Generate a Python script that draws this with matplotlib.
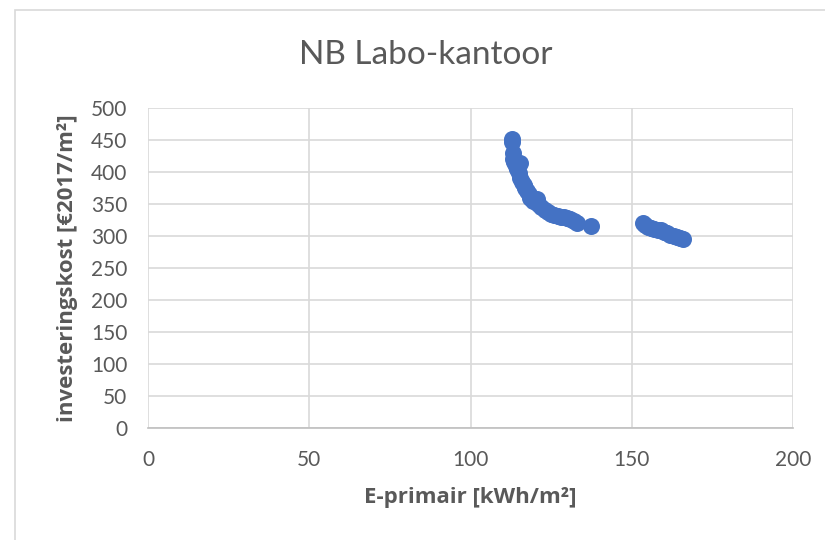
import matplotlib.pyplot as plt
from matplotlib.patches import Rectangle

plt.rcParams['font.family'] = ['Lato', 'DejaVu Sans']

# E-primair [kWh/m²] and investeringskost [€2017/m²]
e_left = [113.0, 113.0, 113.2, 113.3, 113.5, 114.0, 115.5, 114.5, 115.0, 115.5, 116.0,
          116.5, 117.0, 117.5, 118.0, 118.5, 119.5, 120.5, 121.0, 122.0, 123.0, 124.0,
          125.0, 126.0, 127.0, 128.0, 129.0, 130.0, 131.0, 132.0, 133.0, 137.5]
k_left = [452, 447, 430, 420, 415, 410, 414, 405, 398, 390, 385,
          380, 375, 370, 365, 360, 355, 358, 350, 345, 340, 337,
          335, 333, 332, 330, 329, 328, 326, 323, 320, 316]
e_right = [153.5, 154.0, 155.0, 156.0, 157.0, 158.0, 159.0, 160.0, 161.0, 162.0,
           163.0, 164.0, 165.0, 166.0]
k_right = [320, 317, 314, 312, 311, 310, 309, 307, 304, 302, 300, 298, 297, 295]

x_ticks = [0, 50, 100, 150, 200]
y_ticks = [0, 50, 100, 150, 200, 250, 300, 350, 400, 450, 500]

fig = plt.figure(figsize=(8.25, 5.4), dpi=100)
fig.patches.append(Rectangle((15 / 825, -0.1), 1.0, 1 - 10 / 540 + 0.1, transform=fig.transFigure,
                             fill=False, edgecolor='#d9d9d9', lw=1.2))
ax = fig.add_axes([148 / 825, 1 - 428 / 540, (793 - 148) / 825, (428 - 108) / 540])

ax.scatter(e_left + e_right, k_left + k_right, s=150, color='#4472c4', zorder=3, linewidths=0)

ax.set_xlim(0, 200)
ax.set_ylim(0, 500)
ax.set_xticks(x_ticks)
ax.set_yticks(y_ticks)
ax.grid(True, color='#d9d9d9', lw=1.2)
ax.set_axisbelow(True)
for s in ['top', 'right', 'left']:
    ax.spines[s].set_visible(False)
ax.spines['bottom'].set_color('#bfbfbf')
ax.spines['bottom'].set_linewidth(1.2)
ax.tick_params(length=0, labelsize=15, labelcolor='#595959')
ax.tick_params(axis='y', pad=15)
ax.tick_params(axis='x', pad=16)

fig.text(426 / 825, 1 - 55 / 540, 'NB Labo-kantoor', fontsize=24, color='#595959',
         ha='center', va='center')
lab = dict(fontsize=16, fontweight='bold', color='#595959', family=['Open Sans', 'DejaVu Sans'])
ax.set_xlabel('E-primair [kWh/m²]', labelpad=12, **lab)
ax.set_ylabel('investeringskost [€2017/m²]', labelpad=9, **lab)

fig.savefig('out.png', dpi=100)
